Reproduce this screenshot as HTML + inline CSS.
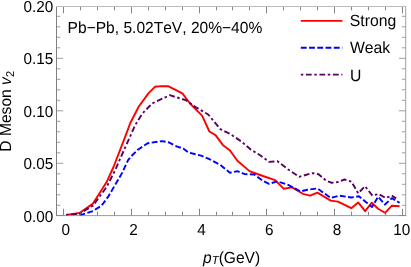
<!DOCTYPE html>
<html><head><meta charset="utf-8"><style>
html,body{margin:0;padding:0;background:#fff;}
svg{display:block;font-family:"Liberation Sans",sans-serif;text-rendering:geometricPrecision;font-kerning:none;will-change:transform;}
</style></head><body>
<svg width="411" height="267" viewBox="0 0 411 267">
<rect width="411" height="267" fill="#fff"/>
<g fill="none" stroke-linejoin="round" stroke-width="1.9">
<polyline stroke="#ff0000" points="66.4,214.9 79.5,213.0 93.0,203.6 106.6,182.1 113.5,167.0 120.7,148.3 125.5,135.8 130.3,123.0 138.8,106.5 148.6,93.1 154.9,86.8 161.7,86.1 168.6,86.3 182.4,93.4 190.0,103.5 196.0,109.6 202.1,115.7 209.4,131.5 215.5,135.1 222.8,144.9 230.0,150.5 237.4,160.7 249.5,171.1 262.9,176.0 275.1,180.1 283.6,188.7 292.1,187.4 302.8,193.8 310.1,195.7 317.4,192.6 330.7,200.6 338.0,201.6 351.3,208.2 358.2,202.4 365.1,211.2 371.7,202.8 378.1,208.8 385.0,212.8 391.9,205.7 399.6,206.2"/>
<polyline stroke="#0000ff" stroke-dasharray="5.85 2.4" points="79.5,215.4 93.0,211.0 101.6,205.6 108.0,196.9 116.8,182.1 122.4,172.4 128.1,160.1 131.0,156.5 137.4,150.0 147.7,143.2 161.9,141.1 168.7,142.3 177.3,146.7 183.2,148.4 188.3,152.5 201.1,155.6 208.8,158.8 220.3,164.9 230.0,172.8 237.4,171.1 244.7,174.1 254.4,174.5 262.9,180.9 269.0,183.8 277.5,181.4 288.2,184.8 300.3,191.4 307.6,189.7 317.4,188.4 330.7,197.9 339.3,195.7 351.4,197.5 358.9,196.3 372.0,207.1 378.1,196.7 385.0,204.5 391.9,198.1 399.6,202.8"/>
<polyline stroke="#5a0062" stroke-dasharray="2.5 2.6 5.8 2.6" points="66.0,215.0 79.5,213.7 93.0,205.6 106.6,187.0 115.3,169.8 123.9,150.3 130.3,136.1 135.2,125.0 142.5,113.4 152.2,103.4 169.7,95.2 186.3,100.3 196.0,107.4 208.2,114.5 220.3,129.1 230.0,133.9 241.0,141.2 250.7,149.5 260.5,155.5 269.0,161.9 277.5,161.2 288.2,169.5 299.1,176.8 312.5,173.1 318.6,174.3 325.9,180.4 331.8,182.8 337.8,182.0 344.6,179.5 351.4,181.6 358.2,193.3 365.0,186.2 372.4,195.6 378.5,194.0 385.6,198.0 392.0,195.8 396.2,198.4"/>
</g>
<g stroke="#6a6a6a" stroke-width="0.65" fill="none">
<line x1="63.50" y1="215.5" x2="63.50" y2="208.7" stroke="#606060" stroke-width="0.78"/><line x1="63.50" y1="6.5" x2="63.50" y2="13.3" stroke="#606060" stroke-width="0.78"/><line x1="80.50" y1="215.5" x2="80.50" y2="211.7" stroke="#606060" stroke-width="0.78"/><line x1="80.50" y1="6.5" x2="80.50" y2="10.3" stroke="#606060" stroke-width="0.78"/><line x1="97.50" y1="215.5" x2="97.50" y2="211.7" stroke="#606060" stroke-width="0.78"/><line x1="97.50" y1="6.5" x2="97.50" y2="10.3" stroke="#606060" stroke-width="0.78"/><line x1="114.50" y1="215.5" x2="114.50" y2="211.7" stroke="#606060" stroke-width="0.78"/><line x1="114.50" y1="6.5" x2="114.50" y2="10.3" stroke="#606060" stroke-width="0.78"/><line x1="131.50" y1="215.5" x2="131.50" y2="208.7" stroke="#606060" stroke-width="0.78"/><line x1="131.50" y1="6.5" x2="131.50" y2="13.3" stroke="#606060" stroke-width="0.78"/><line x1="148.50" y1="215.5" x2="148.50" y2="211.7" stroke="#606060" stroke-width="0.78"/><line x1="148.50" y1="6.5" x2="148.50" y2="10.3" stroke="#606060" stroke-width="0.78"/><line x1="165.50" y1="215.5" x2="165.50" y2="211.7" stroke="#606060" stroke-width="0.78"/><line x1="165.50" y1="6.5" x2="165.50" y2="10.3" stroke="#606060" stroke-width="0.78"/><line x1="182.50" y1="215.5" x2="182.50" y2="211.7" stroke="#606060" stroke-width="0.78"/><line x1="182.50" y1="6.5" x2="182.50" y2="10.3" stroke="#606060" stroke-width="0.78"/><line x1="199.50" y1="215.5" x2="199.50" y2="208.7" stroke="#606060" stroke-width="0.78"/><line x1="199.50" y1="6.5" x2="199.50" y2="13.3" stroke="#606060" stroke-width="0.78"/><line x1="216.50" y1="215.5" x2="216.50" y2="211.7" stroke="#606060" stroke-width="0.78"/><line x1="216.50" y1="6.5" x2="216.50" y2="10.3" stroke="#606060" stroke-width="0.78"/><line x1="232.50" y1="215.5" x2="232.50" y2="211.7" stroke="#606060" stroke-width="0.78"/><line x1="232.50" y1="6.5" x2="232.50" y2="10.3" stroke="#606060" stroke-width="0.78"/><line x1="249.50" y1="215.5" x2="249.50" y2="211.7" stroke="#606060" stroke-width="0.78"/><line x1="249.50" y1="6.5" x2="249.50" y2="10.3" stroke="#606060" stroke-width="0.78"/><line x1="266.50" y1="215.5" x2="266.50" y2="208.7" stroke="#606060" stroke-width="0.78"/><line x1="266.50" y1="6.5" x2="266.50" y2="13.3" stroke="#606060" stroke-width="0.78"/><line x1="283.50" y1="215.5" x2="283.50" y2="211.7" stroke="#606060" stroke-width="0.78"/><line x1="283.50" y1="6.5" x2="283.50" y2="10.3" stroke="#606060" stroke-width="0.78"/><line x1="300.50" y1="215.5" x2="300.50" y2="211.7" stroke="#606060" stroke-width="0.78"/><line x1="300.50" y1="6.5" x2="300.50" y2="10.3" stroke="#606060" stroke-width="0.78"/><line x1="317.50" y1="215.5" x2="317.50" y2="211.7" stroke="#606060" stroke-width="0.78"/><line x1="317.50" y1="6.5" x2="317.50" y2="10.3" stroke="#606060" stroke-width="0.78"/><line x1="334.50" y1="215.5" x2="334.50" y2="208.7" stroke="#606060" stroke-width="0.78"/><line x1="334.50" y1="6.5" x2="334.50" y2="13.3" stroke="#606060" stroke-width="0.78"/><line x1="351.50" y1="215.5" x2="351.50" y2="211.7" stroke="#606060" stroke-width="0.78"/><line x1="351.50" y1="6.5" x2="351.50" y2="10.3" stroke="#606060" stroke-width="0.78"/><line x1="368.50" y1="215.5" x2="368.50" y2="211.7" stroke="#606060" stroke-width="0.78"/><line x1="368.50" y1="6.5" x2="368.50" y2="10.3" stroke="#606060" stroke-width="0.78"/><line x1="385.50" y1="215.5" x2="385.50" y2="211.7" stroke="#606060" stroke-width="0.78"/><line x1="385.50" y1="6.5" x2="385.50" y2="10.3" stroke="#606060" stroke-width="0.78"/><line x1="402.50" y1="215.5" x2="402.50" y2="208.7" stroke="#606060" stroke-width="0.78"/><line x1="402.50" y1="6.5" x2="402.50" y2="13.3" stroke="#606060" stroke-width="0.78"/><line x1="56.5" y1="215.50" x2="63.3" y2="215.50"/><line x1="405.7" y1="215.50" x2="398.9" y2="215.50"/><line x1="56.5" y1="205.30" x2="60.3" y2="205.30"/><line x1="405.7" y1="205.30" x2="401.9" y2="205.30"/><line x1="56.5" y1="194.80" x2="60.3" y2="194.80"/><line x1="405.7" y1="194.80" x2="401.9" y2="194.80"/><line x1="56.5" y1="184.30" x2="60.3" y2="184.30"/><line x1="405.7" y1="184.30" x2="401.9" y2="184.30"/><line x1="56.5" y1="173.80" x2="60.3" y2="173.80"/><line x1="405.7" y1="173.80" x2="401.9" y2="173.80"/><line x1="56.5" y1="163.30" x2="63.3" y2="163.30"/><line x1="405.7" y1="163.30" x2="398.9" y2="163.30"/><line x1="56.5" y1="152.80" x2="60.3" y2="152.80"/><line x1="405.7" y1="152.80" x2="401.9" y2="152.80"/><line x1="56.5" y1="142.30" x2="60.3" y2="142.30"/><line x1="405.7" y1="142.30" x2="401.9" y2="142.30"/><line x1="56.5" y1="131.80" x2="60.3" y2="131.80"/><line x1="405.7" y1="131.80" x2="401.9" y2="131.80"/><line x1="56.5" y1="121.30" x2="60.3" y2="121.30"/><line x1="405.7" y1="121.30" x2="401.9" y2="121.30"/><line x1="56.5" y1="110.80" x2="63.3" y2="110.80"/><line x1="405.7" y1="110.80" x2="398.9" y2="110.80"/><line x1="56.5" y1="100.30" x2="60.3" y2="100.30"/><line x1="405.7" y1="100.30" x2="401.9" y2="100.30"/><line x1="56.5" y1="89.80" x2="60.3" y2="89.80"/><line x1="405.7" y1="89.80" x2="401.9" y2="89.80"/><line x1="56.5" y1="79.30" x2="60.3" y2="79.30"/><line x1="405.7" y1="79.30" x2="401.9" y2="79.30"/><line x1="56.5" y1="68.80" x2="60.3" y2="68.80"/><line x1="405.7" y1="68.80" x2="401.9" y2="68.80"/><line x1="56.5" y1="58.30" x2="63.3" y2="58.30"/><line x1="405.7" y1="58.30" x2="398.9" y2="58.30"/><line x1="56.5" y1="47.80" x2="60.3" y2="47.80"/><line x1="405.7" y1="47.80" x2="401.9" y2="47.80"/><line x1="56.5" y1="37.30" x2="60.3" y2="37.30"/><line x1="405.7" y1="37.30" x2="401.9" y2="37.30"/><line x1="56.5" y1="26.80" x2="60.3" y2="26.80"/><line x1="405.7" y1="26.80" x2="401.9" y2="26.80"/><line x1="56.5" y1="16.30" x2="60.3" y2="16.30"/><line x1="405.7" y1="16.30" x2="401.9" y2="16.30"/><line x1="56.5" y1="6.50" x2="63.3" y2="6.50"/><line x1="405.7" y1="6.50" x2="398.9" y2="6.50"/>
</g>
<g stroke-width="1" fill="none">
<line x1="56.5" y1="6.0" x2="56.5" y2="216.0" stroke="#808080"/>
<line x1="405.7" y1="6.0" x2="405.7" y2="216.0" stroke="#a0a0a0"/>
<line x1="56.0" y1="6.5" x2="406.2" y2="6.5" stroke="#bcbcbc"/>
<line x1="56.0" y1="215.6" x2="406.2" y2="215.6" stroke="#808080" stroke-width="0.8"/>
</g>
<g font-size="15.3px" fill="#000"><text transform="translate(65.8,234.6) scale(1,1.035)" text-anchor="middle">0</text><text transform="translate(133.6,234.6) scale(1,1.035)" text-anchor="middle">2</text><text transform="translate(201.4,234.6) scale(1,1.035)" text-anchor="middle">4</text><text transform="translate(269.2,234.6) scale(1,1.035)" text-anchor="middle">6</text><text transform="translate(337.0,234.6) scale(1,1.035)" text-anchor="middle">8</text><text transform="translate(401.8,234.6) scale(1,1.035)" text-anchor="middle">10</text><text transform="translate(53.2,221.5) scale(1,1.035)" text-anchor="end">0.00</text><text transform="translate(53.2,169.0) scale(1,1.035)" text-anchor="end">0.05</text><text transform="translate(53.2,116.5) scale(1,1.035)" text-anchor="end">0.10</text><text transform="translate(53.2,64.0) scale(1,1.035)" text-anchor="end">0.15</text><text transform="translate(53.2,11.5) scale(1,1.035)" text-anchor="end">0.20</text></g>
<g font-size="15.5px" fill="#000">
<text transform="translate(67.6,32.9) scale(1,1.035)" font-size="15.57px">Pb−Pb, 5.02TeV, 20%−40%</text>
<text transform="translate(349.8,25.9) scale(1,1.035)" font-size="15.75px">Strong</text>
<text transform="translate(349.9,53.0) scale(1,1.035)" font-size="15.75px">Weak</text>
<text transform="translate(350.1,80.5) scale(1,1.035)" font-size="15.75px">U</text>
<text transform="translate(203,262.6) scale(1,1.035)" font-size="15.57px"><tspan font-style="italic">p</tspan><tspan font-style="italic" font-size="11.4px" dy="1.8">T</tspan><tspan dy="-1.8">(GeV)</tspan></text>
<text transform="translate(10.9,151.7) rotate(-90) scale(1,1.035)" font-size="15.62px">D Meson <tspan font-style="italic">v</tspan><tspan font-size="11px" dy="3">2</tspan></text>
</g>
<g fill="none" stroke-width="1.9">
<line x1="300.8" y1="20.9" x2="342.4" y2="20.9" stroke="#ff0000"/>
<line x1="300.8" y1="47.75" x2="342.4" y2="47.75" stroke="#0000ff" stroke-dasharray="5.85 2.4"/>
<line x1="300.8" y1="74.6" x2="342.4" y2="74.6" stroke="#5a0062" stroke-dasharray="2.5 2.6 5.8 2.6"/>
</g>
</svg>
</body></html>
